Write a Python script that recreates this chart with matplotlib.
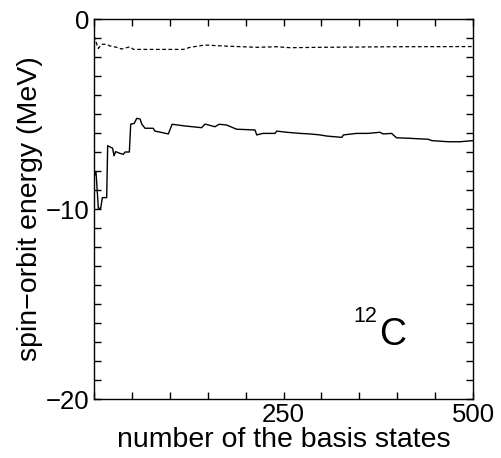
import numpy as np
import matplotlib
matplotlib.use("Agg")
import matplotlib.pyplot as plt
from matplotlib.ticker import MultipleLocator

plt.rcParams['font.family'] = ['Liberation Sans', 'DejaVu Sans']

# total spin-orbit energy vs number of basis states (solid)
n_total = [0, 2.6, 5.7, 8.8, 11, 16.7, 18, 24.5, 26.4, 28.5, 34, 38.7, 41, 46.6,
           48.4, 53, 56.3, 60.7, 63, 67.3, 78, 80.5, 89, 98, 103, 120, 142,
           146.4, 159.6, 165, 175, 188, 212.4, 214.6, 223, 238.8, 241, 254,
           271.8, 285, 298, 307, 327, 329, 346.5, 362, 377, 381.5, 392.5, 399,
           416.9, 425.7, 441, 445.5, 467.5, 482.8, 500]
e_total = [-8.3, -8.04, -9.96, -9.96, -9.4, -9.4, -6.67, -6.8, -7.2, -6.98, -7.07,
           -7.12, -7.0, -7.0, -5.53, -5.5, -5.23, -5.26, -5.53, -5.75, -5.75, -5.9,
           -5.97, -6.05, -5.54, -5.63, -5.72, -5.53, -5.67, -5.54, -5.58, -5.8,
           -5.84, -6.1, -6.02, -6.02, -5.9, -5.96, -6.02, -6.05, -6.1, -6.16,
           -6.23, -6.1, -6.02, -6.02, -5.96, -6.05, -6.02, -6.25, -6.28, -6.3,
           -6.33, -6.4, -6.46, -6.46, -6.4]

# second contribution (dashed)
n_part = [0, 1.3, 3.5, 5.7, 10, 16.7, 21, 30, 36.5, 47.5, 52, 65, 74, 118,
          126.6, 146.4, 170.5, 214.6, 241, 258.6, 298, 395, 500]
e_part = [-0.89, -1.02, -1.32, -1.55, -1.33, -1.33, -1.42, -1.49, -1.58, -1.46,
          -1.6, -1.6, -1.6, -1.6, -1.49, -1.37, -1.42, -1.49, -1.46, -1.51,
          -1.49, -1.46, -1.45]

fig = plt.figure(figsize=(5.02, 4.58), dpi=100)
ax = fig.add_axes([0.1873, 0.1288, 0.7550, 0.8297])

ax.plot(n_total, e_total, color='black', lw=1.0)
ax.plot(n_part, e_part, color='black', lw=0.9, ls=(0, (3, 2)))

ax.set_xlim(0, 500)
ax.set_ylim(-20, 0)
ax.set_xticks([250, 500])
ax.xaxis.set_minor_locator(MultipleLocator(50))
ax.set_yticks([-20, -10, 0])
ax.yaxis.set_minor_locator(MultipleLocator(1))
ax.tick_params(which='both', direction='in', top=True, right=True,
               length=5, width=1, labelsize=18.5, pad=3)

for s in ax.spines.values():
    s.set_linewidth(1.0)

ax.set_xlabel('number of the basis states', fontsize=20.5, labelpad=0)
ax.set_ylabel('spin\u2212orbit energy (MeV)', fontsize=20.5, labelpad=2)

ax.text(0.683, 0.203, '12', transform=ax.transAxes, fontsize=15.5,
        ha='left', va='baseline')
ax.text(0.753, 0.142, 'C', transform=ax.transAxes, fontsize=27,
        ha='left', va='baseline')

fig.savefig('out.png', dpi=100)
